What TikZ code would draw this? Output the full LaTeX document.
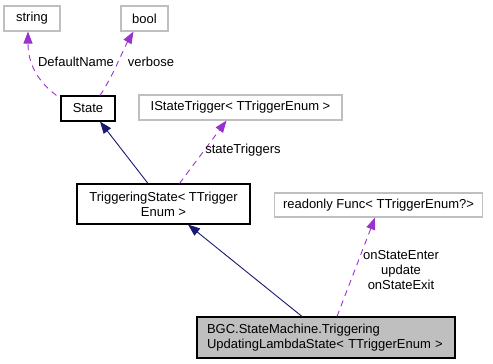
\documentclass[tikz,border=0pt]{standalone}
\usepackage{fontspec}
\setmainfont{Liberation Sans}
\usetikzlibrary{arrows.meta}
\definecolor{inherit}{HTML}{191970}
\definecolor{usage}{HTML}{9A32CD}
\definecolor{extbox}{HTML}{BFBFBF}
\tikzset{
  txt/.style={font=\fontsize{13}{15}\selectfont},
  cls/.style={txt, draw=black, fill=white, line width=1.1pt, align=center, inner sep=0pt},
  ext/.style={txt, draw=extbox, fill=white, line width=1.1pt, align=center, inner sep=0pt},
  focus/.style={txt, draw=black, fill=extbox, line width=1.1pt, align=left, inner xsep=10pt, inner ysep=0pt},
  isa/.style={draw=inherit, line width=0.9pt, -{Triangle[length=12pt,width=9pt]}},
  uses/.style={draw=usage, line width=0.9pt, dash pattern=on 6pt off 5pt, -{Triangle[length=12pt,width=9pt]}},
  lbl/.style={txt, inner sep=0pt, align=center}
}
\begin{document}
\begin{tikzpicture}[x=1pt,y=-1pt]
\useasboundingbox (0,0) rectangle (493,364);
% classes
\node[ext, minimum width=56pt, minimum height=25pt] (string) at (32,18.5) {string};
\node[ext, minimum width=47pt, minimum height=25pt] (bool) at (144.5,18.5) {bool};
\node[cls, minimum width=54pt, minimum height=25pt] (state) at (88,108.5) {State};
\node[ext, minimum width=203pt, minimum height=25pt] (trig) at (240.5,107.5) {IStateTrigger\textless{} TTriggerEnum \textgreater{}};
\node[cls, minimum width=173pt, minimum height=40pt] (tstate) at (163.5,204) {TriggeringState\textless{} TTrigger\\Enum \textgreater{}};
\node[ext, minimum width=208pt, minimum height=24pt] (func) at (378.5,205) {readonly Func\textless{} TTriggerEnum?\textgreater{}};
\node[focus, minimum width=258pt, minimum height=41pt, text width=238pt] (lambda) at (326,337.5) {BGC.StateMachine.Triggering\\UpdatingLambdaState\textless{} TTriggerEnum \textgreater{}};
% member usage
\draw[uses] ([xshift=-4pt]state.north west) .. controls (36,80) and (28,62) .. ([xshift=-4pt]string.south);
\node[lbl] (lname) at (76,62) {DefaultName};
\draw[uses] ([xshift=12pt]state.north) .. controls (112,78) and (124,48) .. ([xshift=-11pt]bool.south);
\node[lbl] (lverb) at (151,62) {verbose};
\draw[uses] ([xshift=16pt]tstate.north) -- ([xshift=-14pt]trig.south);
\node[lbl] (ltrig) at (243,150) {stateTriggers};
\draw[uses] ([xshift=11pt]lambda.north) -- ([xshift=-3.5pt]func.south);
\node[lbl] (lfunc) at (401,270) {onStateEnter\\update\\onStateExit};
% inheritance
\draw[isa] ([xshift=-15.5pt]tstate.north) -- ([xshift=12pt]state.south);
\draw[isa] ([xshift=-24pt]lambda.north) -- ([xshift=24.5pt]tstate.south);
\end{tikzpicture}
\end{document}
